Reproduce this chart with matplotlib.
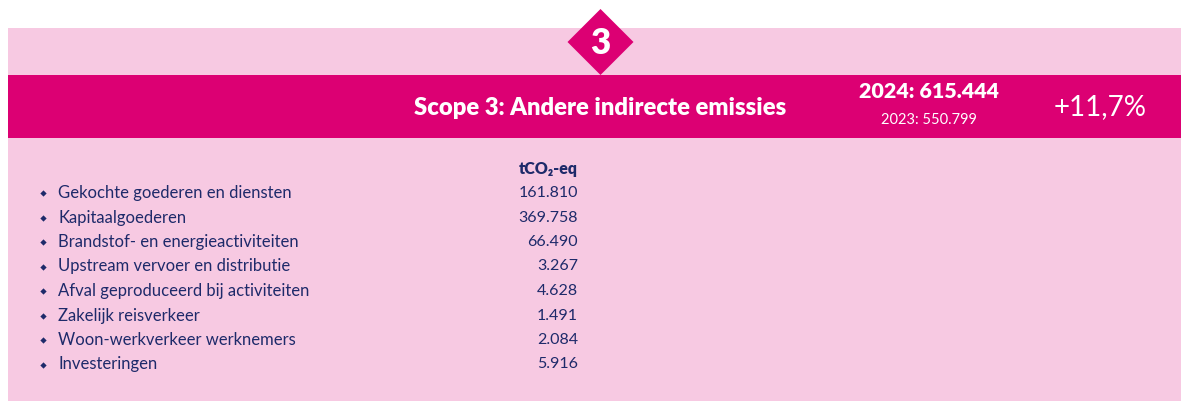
import matplotlib.pyplot as plt
from matplotlib.patches import Rectangle, Polygon

# data
scope_nr = "3"
title = "Scope 3: Andere indirecte emissies"
year_now, total_now = "2024", "615.444"
year_prev, total_prev = "2023", "550.799"
change = "+11,7%"
unit = "tCO₂-eq"
categories = [
    "Gekochte goederen en diensten",
    "Kapitaalgoederen",
    "Brandstof- en energieactiviteiten",
    "Upstream vervoer en distributie",
    "Afval geproduceerd bij activiteiten",
    "Zakelijk reisverkeer",
    "Woon-werkverkeer werknemers",
    "Investeringen",
]
values = ["161.810", "369.758", "66.490", "3.267", "4.628", "1.491", "2.084", "5.916"]

PINK = "#f7c9e2"
MAGENTA = "#dc0073"
NAVY = "#1e2a6a"
FONT = ["Lato", "DejaVu Sans"]

fig = plt.figure(figsize=(11.81, 4.01), dpi=100)
ax = fig.add_axes([0, 0, 1, 1])
ax.set_xlim(0, 1181)
ax.set_ylim(401, 0)
ax.axis("off")

# background panel + banner
ax.add_patch(Rectangle((8, 28), 1173, 373, color=PINK, lw=0))
ax.add_patch(Rectangle((8, 75), 1173, 63, color=MAGENTA, lw=0))

# diamond badge
cx, cy, r = 600.5, 42, 33
ax.add_patch(Polygon([(cx, cy - r), (cx + r, cy), (cx, cy + r), (cx - r, cy)],
                     color=MAGENTA, lw=0))
ax.text(cx, cy + 1, scope_nr, color="white", fontsize=25, fontweight="heavy",
        family=FONT, ha="center", va="center")

# banner texts
ax.text(600, 108, title, color="white", fontsize=17.1, fontweight="heavy",
        family=FONT, ha="center", va="center")
ax.text(929, 92, f"{year_now}: {total_now}", color="white", fontsize=15.4,
        fontweight="heavy", family=FONT, ha="center", va="center")
ax.text(929, 120, f"{year_prev}: {total_prev}", color="white", fontsize=10.5,
        family=FONT, ha="center", va="center")
ax.text(1100, 107, change, color="white", fontsize=20, fontweight="normal",
        family=FONT, ha="center", va="center")

# table
ax.text(578, 169, unit, color=NAVY, fontsize=11.5, fontweight="heavy",
        family=FONT, ha="right", va="center")
for i, (cat, val) in enumerate(zip(categories, values)):
    y = 193 + i * 24.5
    ax.plot(43, y, marker="D", ms=3.2, color=NAVY, mec="none")
    ax.text(58, y, cat, color=NAVY, fontsize=12, family=FONT,
            ha="left", va="center")
    ax.text(578, y, val, color=NAVY, fontsize=11.5, family=FONT,
            ha="right", va="center")

fig.savefig("out.png", dpi=100)
